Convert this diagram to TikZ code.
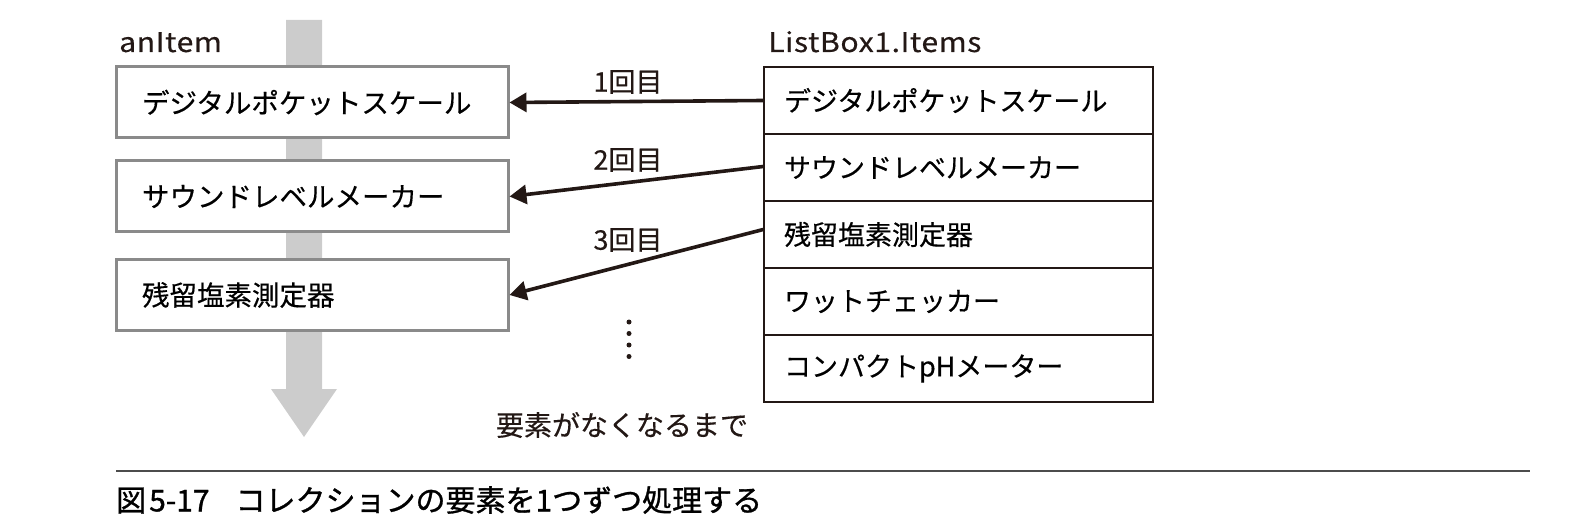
\documentclass[tikz,border=0pt]{standalone}
\usepackage{fontspec}
\setmainfont{Noto Sans CJK JP}[FakeBold=0.4]
\newfontfamily\latinfont{Noto Sans CJK JP}[FakeStretch=1.12,LetterSpace=2,FakeBold=0.4]
\newfontfamily\capfont{Noto Sans CJK JP}[FakeBold=1.0]
\usetikzlibrary{arrows.meta}
\definecolor{boxgray}{HTML}{8A8A8A}
\definecolor{bandgray}{HTML}{CCCCCC}
\definecolor{ink}{HTML}{231815}
\begin{document}
\begin{tikzpicture}[x=1pt,y=-1pt,
  lbox/.style={draw=boxgray,line width=3pt,fill=white,minimum height=71pt,
    text width=340pt,inner xsep=26pt,align=left,font=\fontsize{27.5}{30}\selectfont},
  rowbox/.style={draw=ink,line width=1.5pt,fill=white,minimum height=67pt,
    text width=349pt,inner xsep=20pt,align=left,font=\fontsize{27}{30}\selectfont},
  lbl/.style={font=\fontsize{27}{30}\selectfont,text=ink,inner sep=0pt},
  fetch/.style={draw=ink,line width=3.6pt,-{Triangle[length=17pt,width=19pt]}},
  dotmark/.style={circle,fill=ink,inner sep=0pt,minimum size=5pt}]
\useasboundingbox (0,0) rectangle (1586,526);
% gray flow arrow
\fill[bandgray] (286,20) -- (322,20) -- (322,389) -- (337,389) -- (304,437) -- (271,389) -- (286,389) -- cycle;
% left boxes
\node[lbox] (b1) at (312,102.5) {デジタルポケットスケール};
\node[lbox] (b2) at (312,196.5) {サウンドレベルメーカー};
\node[lbox] (b3) at (312,295) {残留塩素測定器};
\node[lbl,anchor=base west] (ai) at (119,52) {\latinfont anItem};
% table
\node[rowbox] (r1) at (958.5,100.5) {デジタルポケットスケール};
\node[rowbox] (r2) at (958.5,167.5) {サウンドレベルメーカー};
\node[rowbox] (r3) at (958.5,234.5) {残留塩素測定器};
\node[rowbox] (r4) at (958.5,301.5) {ワットチェッカー};
\node[rowbox] (r5) at (958.5,368.5) {コンパクトpHメーター};
\node[lbl,anchor=base west] (lb) at (768,52) {\latinfont ListBox1.Items};
% arrows
\draw[fetch] (r1.west) -- (b1.east);
\draw[fetch] ([yshift=1pt]r2.west) -- (b2.east);
\draw[fetch] ([yshift=5pt]r3.west) -- (b3.east);
\node[lbl] (l1) at (628,82) {1回目};
\node[lbl] (l2) at (628,160) {2回目};
\node[lbl] (l3) at (628,240) {3回目};
% dots
\node[dotmark] (d1) at (629,322) {};
\node[dotmark] (d2) at (629,333.5) {};
\node[dotmark] (d3) at (629,345) {};
\node[dotmark] (d4) at (629,356.5) {};
\node[lbl,font=\fontsize{28}{30}\selectfont] (until) at (622,425) {要素がなくなるまで};
% caption
\coordinate (ls) at (116,471);
\coordinate (le) at (1530,471);
\draw[line width=1.5pt,draw=black!70] (ls) -- (le);
\node[lbl,anchor=west,font=\fontsize{30}{32}\capfont,text=black] (cap) at (116,500) {図\hspace{3pt}5-17\hspace{26pt}コレクションの要素を1つずつ処理する};
\end{tikzpicture}
\end{document}
